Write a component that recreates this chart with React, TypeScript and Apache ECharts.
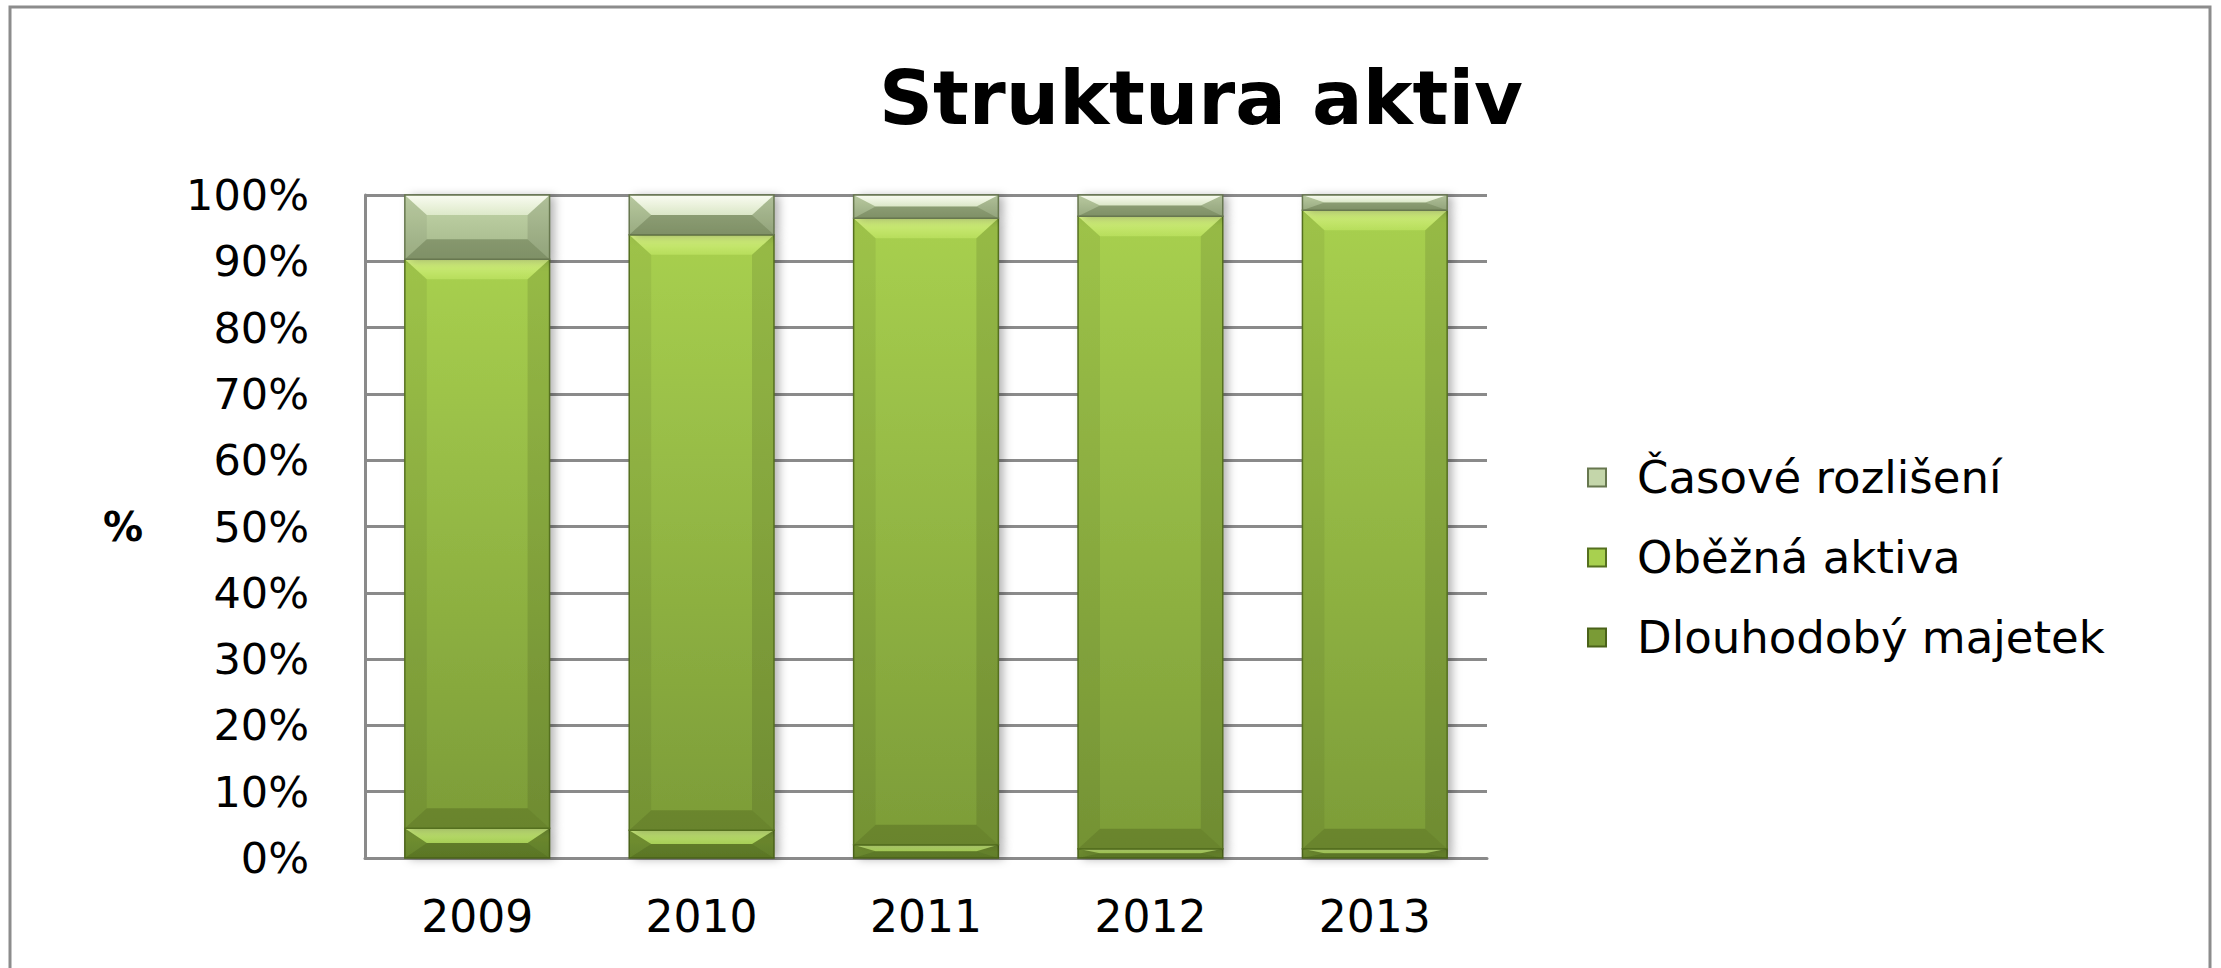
import React, { useEffect, useRef } from "react";
import * as echarts from "echarts";

const categories = ["2009", "2010", "2011", "2012", "2013"];
const seriesNames = ["Dlouhodobý majetek", "Oběžná aktiva", "Časové rozlišení"];
const dlouhodoby = [4.5, 4.2, 2.0, 1.4, 1.4];
const obezna = [85.8, 89.8, 94.5, 95.4, 96.3];
const casove = [9.7, 6.0, 3.5, 3.2, 2.3];
const yTicks = [0, 10, 20, 30, 40, 50, 60, 70, 80, 90, 100];

const FONT = "DejaVu Sans";

type Look = { top: string; bottom: string; hiTop: string; hiBot: string; lo: number; border: string };
const looks: Look[] = [
  { top: "#7a9b36", bottom: "#6c8c2e", hiTop: "rgba(225,255,150,0.75)", hiBot: "rgba(200,245,110,0.6)", lo: 0.2, border: "#4a6219" },
  { top: "#a8d04f", bottom: "#7c9c38", hiTop: "rgba(235,255,160,0.7)", hiBot: "rgba(215,250,120,0.35)", lo: 0.18, border: "#55701f" },
  { top: "#c4d6aa", bottom: "#a3b689", hiTop: "rgba(255,255,250,0.9)", hiBot: "rgba(245,252,230,0.6)", lo: 0.25, border: "#67774f" },
];

export default function App() {
  const ref = useRef<HTMLDivElement>(null);
  useEffect(() => {
    if (!ref.current) return;
    const chart = echarts.init(ref.current, undefined, { renderer: "svg" });
    const layers = [dlouhodoby, obezna, casove];
    const cum = categories.map(() => 0);
    const series = layers.map((vals, si) => {
      const data = vals.map((v, i) => {
        const lo = cum[i];
        cum[i] += v;
        return [i, lo, cum[i]];
      });
      const lk = looks[si];
      return {
        type: "custom",
        name: seriesNames[si],
        encode: { x: 0, y: [1, 2] },
        itemStyle: { color: lk.top, borderColor: lk.border, borderWidth: 1 },
        data,
        z: 2 + si,
        renderItem: (params: any, api: any) => {
          const cat = api.value(0);
          const lo = api.value(1);
          const hi = api.value(2);
          const pTop = api.coord([cat, hi]);
          const pBot = api.coord([cat, lo]);
          const bw = api.size([1, 0])[0] * 0.645;
          const x0 = pTop[0] - bw / 2;
          const x1 = pTop[0] + bw / 2;
          const y0 = pTop[1];
          const y1 = pBot[1];
          const h = y1 - y0;
          const b = Math.min(20, h / 2, bw / 2);
          const bs = Math.min(22, bw / 2);
          const bodyGrad = new echarts.graphic.LinearGradient(0, 0, 0, 1, [
            { offset: 0, color: lk.top },
            { offset: 1, color: lk.bottom },
          ]);
          return {
            type: "group",
            children: [
              {
                type: "rect",
                shape: { x: x0, y: y0, width: bw, height: h },
                style: {
                  fill: bodyGrad,
                  shadowBlur: 10,
                  shadowOffsetX: 5,
                  shadowOffsetY: 1,
                  shadowColor: "rgba(0,0,0,0.3)",
                },
              },
              {
                type: "polygon",
                shape: { points: [[x0, y0], [x0 + bs, y0 + b], [x0 + bs, y1 - b], [x0, y1]] },
                style: { fill: "rgba(0,0,0,0.06)" },
              },
              {
                type: "polygon",
                shape: { points: [[x1, y0], [x1 - bs, y0 + b], [x1 - bs, y1 - b], [x1, y1]] },
                style: { fill: "rgba(0,0,0,0.1)" },
              },
              {
                type: "polygon",
                shape: { points: [[x0, y0], [x1, y0], [x1 - bs, y0 + b], [x0 + bs, y0 + b]] },
                style: {
                  fill: new echarts.graphic.LinearGradient(0, 0, 0, 1, [
                    { offset: 0, color: lk.hiTop },
                    { offset: 1, color: lk.hiBot },
                  ]),
                },
              },
              {
                type: "polygon",
                shape: { points: [[x0, y1], [x1, y1], [x1 - bs, y1 - b], [x0 + bs, y1 - b]] },
                style: { fill: `rgba(20,30,0,${lk.lo})` },
              },
              {
                type: "rect",
                shape: { x: x0, y: y0, width: bw, height: h },
                style: { fill: "none", stroke: lk.border, lineWidth: 1.5 },
              },
            ],
          };
        },
      };
    });

    chart.setOption({
      animation: false,
      backgroundColor: "#ffffff",
      graphic: [
        {
          type: "rect",
          shape: { x: 10, y: 7, width: 2200, height: 1010 },
          style: { fill: "none", stroke: "#8c8c8c", lineWidth: 3 },
          z: -10,
        },
        {
          type: "text",
          x: 1201,
          y: 98,
          style: {
            text: "Struktura aktiv",
            fontFamily: FONT,
            fontWeight: "bold",
            fontSize: 75,
            fill: "#000000",
            align: "center",
            verticalAlign: "middle",
          },
        },
      ],
      legend: {
        orient: "vertical",
        left: 1582,
        top: 450,
        itemWidth: 18,
        itemHeight: 18,
        itemGap: 35,
        icon: "rect",
        data: [seriesNames[2], seriesNames[1], seriesNames[0]],
        textStyle: { fontFamily: FONT, fontSize: 45, color: "#000", padding: [0, 0, 0, 26] },
      },
      grid: { left: 365, right: 734, top: 195, bottom: 110, containLabel: false },
      xAxis: {
        type: "category",
        data: categories,
        boundaryGap: true,
        axisLine: { show: true, lineStyle: { color: "#8a8a8a", width: 3 } },
        axisTick: { show: false },
        axisLabel: { fontFamily: FONT, fontSize: 44, color: "#000", margin: 36 },
        splitLine: { show: false },
      },
      yAxis: {
        type: "value",
        min: 0,
        max: 100,
        interval: 10,
        name: "%",
        nameLocation: "middle",
        nameRotate: 0,
        nameGap: 222,
        nameTextStyle: { fontFamily: FONT, fontSize: 40, fontWeight: "bold", color: "#000" },
        axisLine: { show: true, lineStyle: { color: "#8a8a8a", width: 3 } },
        axisTick: { show: false },
        axisLabel: {
          fontFamily: FONT,
          fontSize: 43,
          color: "#000",
          margin: 56,
          formatter: (v: number) => (yTicks.includes(v) ? `${v}%` : ""),
        },
        splitLine: { show: true, lineStyle: { color: "#8a8a8a", width: 3 } },
      },
      series,
    });
    return () => chart.dispose();
  }, []);
  return (
    <div
      ref={ref}
      style={{ position: "fixed", left: 0, top: 0, width: 2221, height: 968, background: "#fff" }}
    />
  );
}
